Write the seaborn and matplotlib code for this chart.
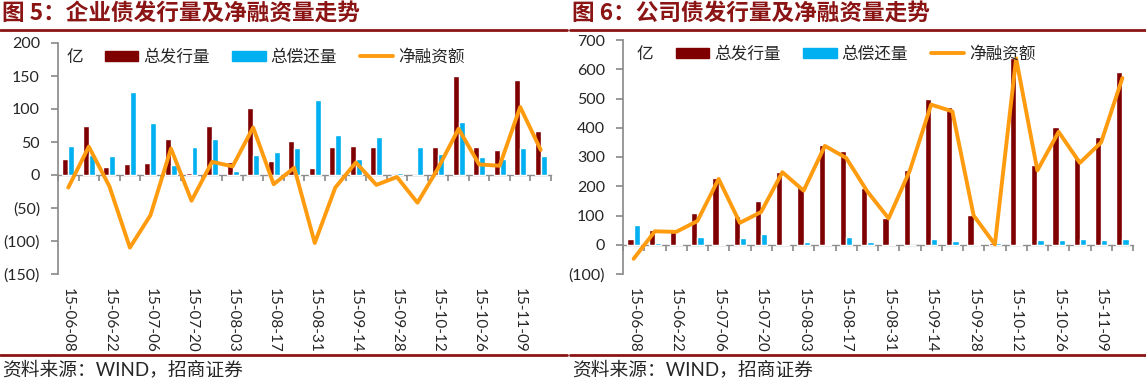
import numpy as np
import pandas as pd
import matplotlib
matplotlib.use('Agg')
import matplotlib.pyplot as plt
import seaborn as sns
from matplotlib.lines import Line2D
from matplotlib.patches import Patch

# weekly data, 2015-06-08 .. 2015-11-16 (unit: 亿)
weeks = ['15-06-08', '15-06-15', '15-06-22', '15-06-29', '15-07-06', '15-07-13',
         '15-07-20', '15-07-27', '15-08-03', '15-08-10', '15-08-17', '15-08-24',
         '15-08-31', '15-09-07', '15-09-14', '15-09-21', '15-09-28', '15-10-05',
         '15-10-12', '15-10-19', '15-10-26', '15-11-02', '15-11-09', '15-11-16']

ent_issue = [25, 74, 12, 16, 18, 55, 3, 75, 19, 102, 21, 52, 11, 42, 44, 43, 0, 0, 42, 150, 43, 38, 144, 67]
ent_repay = [44, 31, 29, 126, 79, 15, 42, 55, 6, 30, 35, 41, 114, 61, 25, 58, 3, 42, 32, 80, 27, 24, 41, 29]
ent_net = [-19, 43, -17, -110, -61, 40, -39, 20, 13, 72, -14, 11, -103, -19, 19, -15, -3, -42, 10, 70, 16, 14, 103, 38]

corp_issue = [20, 51, 45, 107, 228, 99, 150, 249, 196, 340, 322, 193, 92, 254, 498, 470, 102, 6, 640, 271, 403, 298, 367, 590]
corp_repay = [68, 5, 1, 26, 3, 24, 38, 1, 11, 2, 25, 11, 2, 0, 19, 14, 2, 5, 3, 17, 17, 18, 17, 20]
corp_net = [-48, 46, 44, 81, 225, 75, 112, 248, 185, 338, 297, 182, 90, 254, 479, 456, 100, 1, 637, 254, 386, 280, 350, 570]

ent_yticks = [200, 150, 100, 50, 0, -50, -100, -150]
corp_yticks = [700, 600, 500, 400, 300, 200, 100, 0, -100]

titles = ['图 5：企业债发行量及净融资量走势', '图 6：公司债发行量及净融资量走势']
source = '资料来源：WIND，招商证券'
series_names = ['总发行量', '总偿还量', '净融资额']

DARK = '#7F0000'
BLUE = '#00B0F0'
ORANGE = '#FF9B0F'
RED = '#8B1414'
GRAY = '#8C8C8C'

sns.set_theme(style='white')
plt.rcParams['font.family'] = ['Lato', 'Noto Sans CJK SC', 'DejaVu Sans']

W, H = 1146, 384
fig = plt.figure(figsize=(W / 100, H / 100), dpi=100)


def fmt(v):
    return f'({-v})' if v < 0 else str(v)


def draw_panel(rect, issue, repay, net, yticks, legend_x, unit_x):
    ax = fig.add_axes(rect)
    n = len(weeks)
    df = pd.DataFrame({'week': weeks * 2,
                       'value': issue + repay,
                       'kind': [series_names[0]] * n + [series_names[1]] * n})
    sns.barplot(data=df, x='week', y='value', hue='kind', palette=[DARK, BLUE],
                width=0.58, saturation=1, errorbar=None, legend=False, ax=ax)
    sns.lineplot(x=np.arange(n), y=net, color=ORANGE, lw=2.8, ax=ax)
    ymin, ymax = min(yticks), max(yticks)
    ax.set_ylim(ymin, ymax)
    ax.set_xlim(-0.5, n - 0.5)
    ax.set_yticks(yticks)
    ax.set_yticklabels([fmt(v) for v in yticks], fontsize=11.5)
    ax.set_xticks(range(0, n, 2))
    ax.set_xticklabels(weeks[::2], rotation=-90, fontsize=11)
    ax.tick_params(axis='x', length=0, pad=10)
    ax.tick_params(axis='y', length=5, color=GRAY, left=True, pad=8)
    for s in ['top', 'right', 'bottom']:
        ax.spines[s].set_visible(False)
    ax.spines['left'].set_color(GRAY)
    ax.set_xlabel('')
    ax.set_ylabel('')

    # zero axis with category boundary ticks
    sec = ax.secondary_xaxis((0 - ymin) / (ymax - ymin))
    sec.set_xticks(np.arange(-0.5, n, 1))
    sec.tick_params(length=4, color=GRAY, labelbottom=False, labeltop=False, direction='out')
    for s in sec.spines.values():
        s.set_color(GRAY)
        s.set_linewidth(1)

    ax.text(unit_x, 0.94, '亿', transform=ax.transAxes, fontsize=12, va='center', ha='left')
    handles = [Patch(color=DARK), Patch(color=BLUE), Line2D([], [], color=ORANGE, lw=2.8)]
    ax.legend(handles, series_names, ncol=3, loc='center left',
              bbox_to_anchor=(legend_x, 0.94), frameon=False, fontsize=12,
              handlelength=2.0, handleheight=0.6, handletextpad=0.3,
              columnspacing=1.35, borderpad=0, borderaxespad=0)
    return ax


draw_panel([58 / W, 1 - 274 / H, 493 / W, 231 / H], ent_issue, ent_repay, ent_net,
           ent_yticks, 0.095, 0.018)
draw_panel([623 / W, 1 - 274 / H, 510 / W, 234 / H], corp_issue, corp_repay, corp_net,
           corp_yticks, 0.104, 0.026)

# titles, rules and sources
for x0, x1, t in [(0, 567, titles[0]), (570, W, titles[1])]:
    fig.text((x0 + 2) / W, 1 - 13 / H, t, fontsize=16.3, fontweight='bold', color=RED,
             va='center', ha='left', family=['Noto Sans CJK SC', 'DejaVu Sans'])
    fig.add_artist(Line2D([x0 / W, x1 / W], [1 - 30 / H] * 2, color=RED, lw=2))
    fig.add_artist(Line2D([x0 / W, x1 / W], [1 - 355 / H] * 2, color=RED, lw=2))
    fig.text((x0 + 2) / W, 1 - 369 / H, source, fontsize=13.5, va='center', ha='left')

fig.savefig('out.png', dpi=100)
